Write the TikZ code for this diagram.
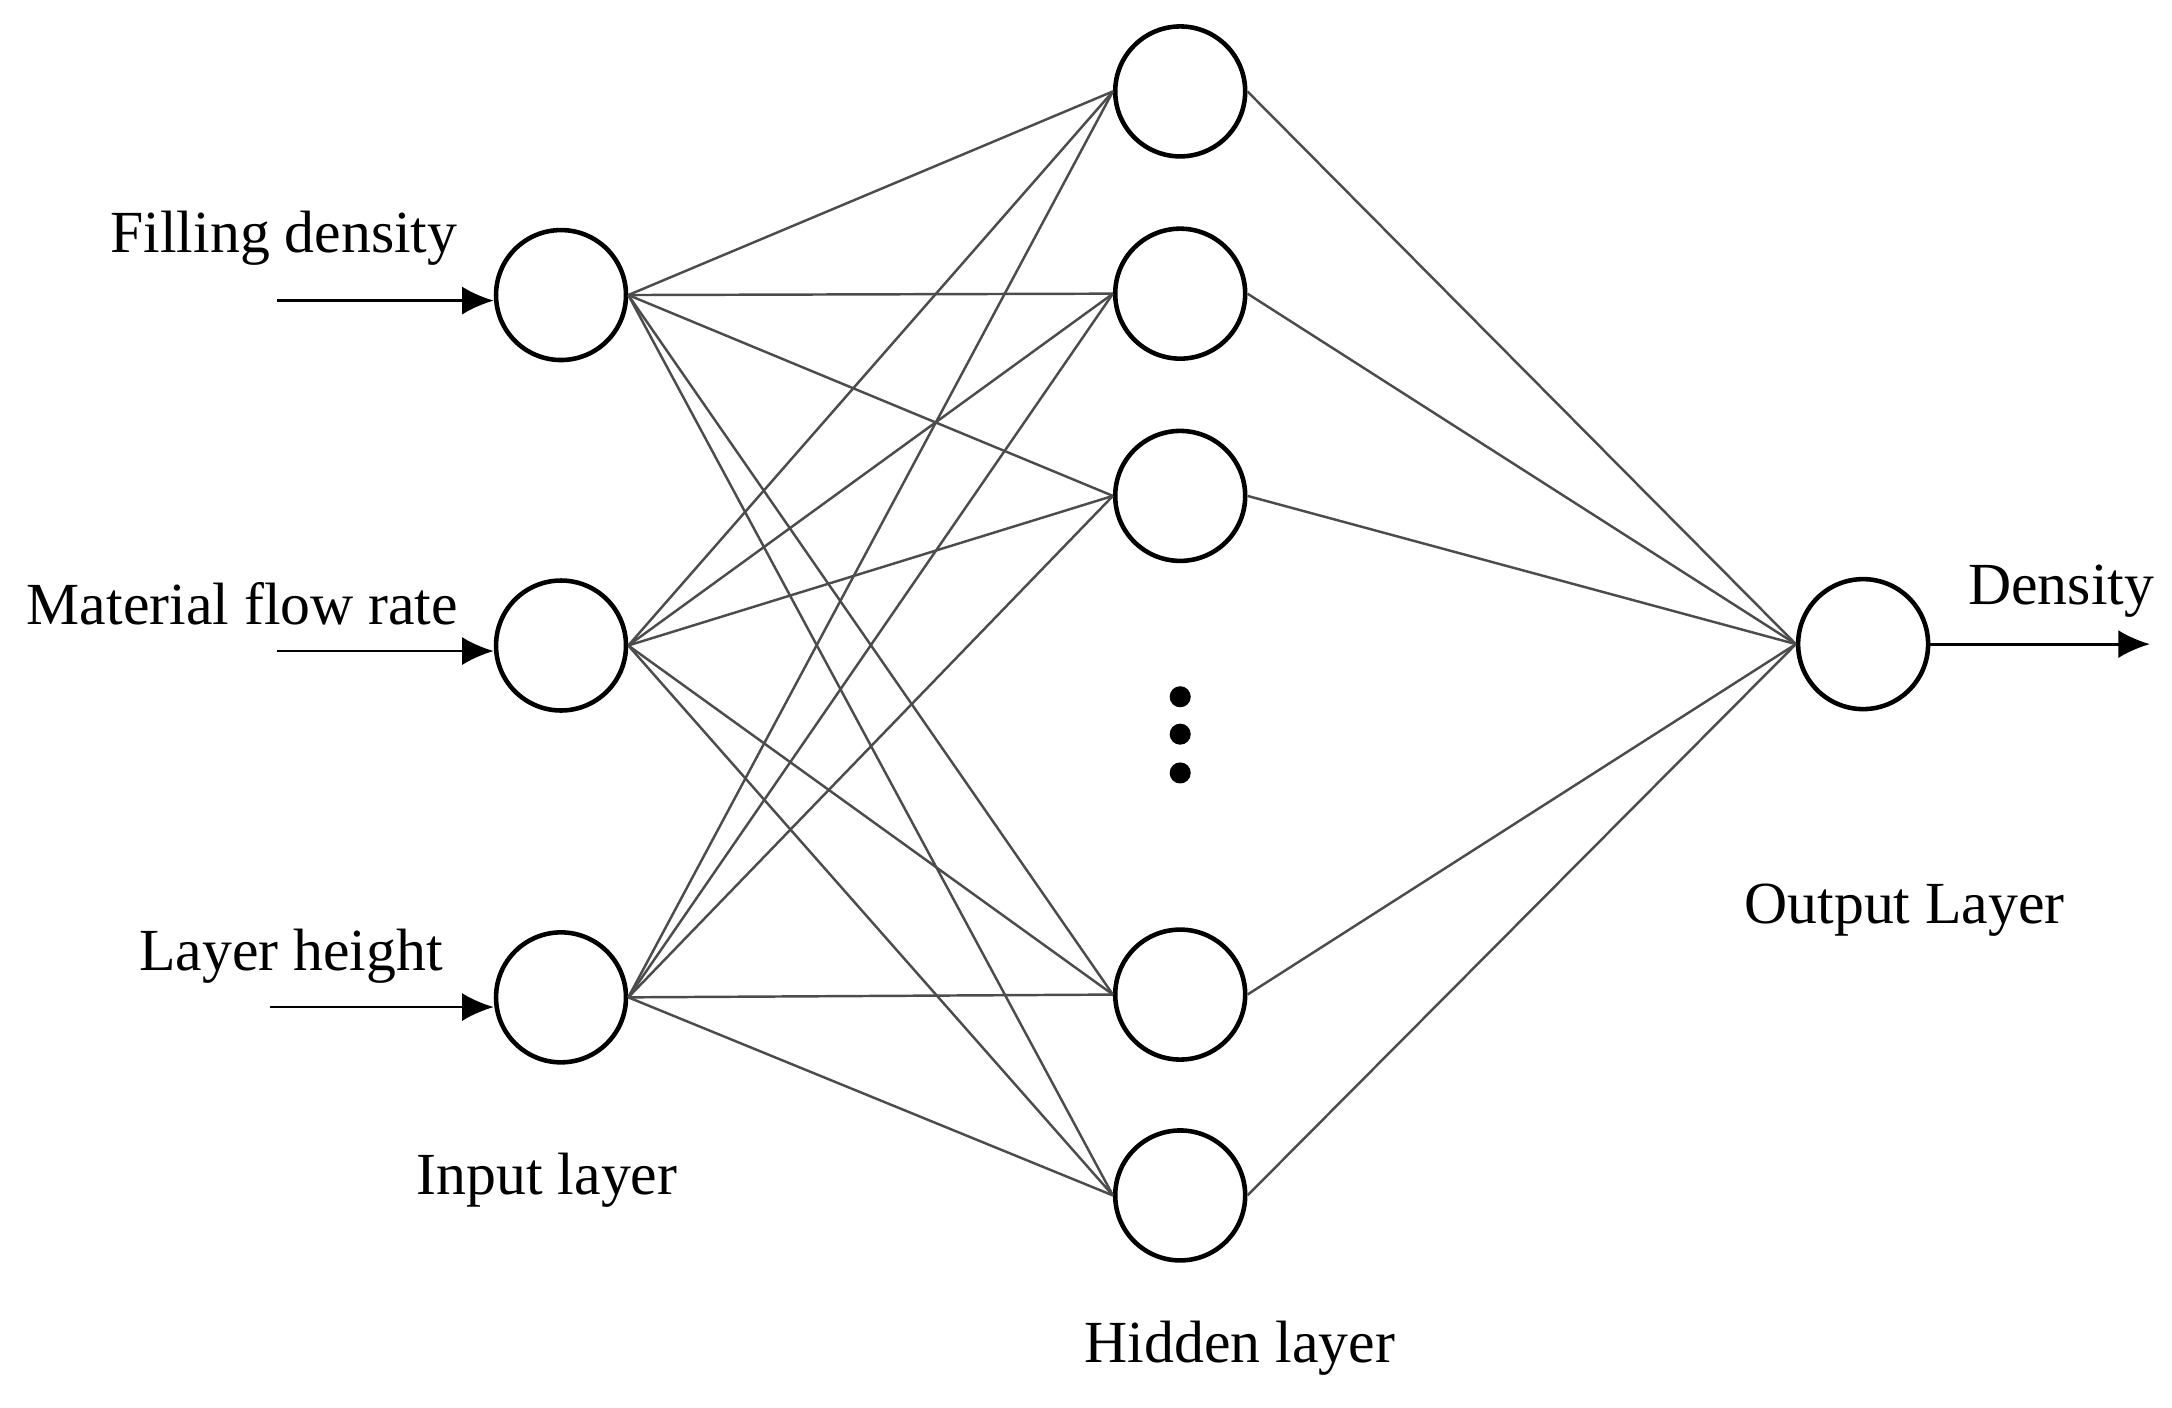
\documentclass[tikz,border=0pt]{standalone}
\usepackage{fontspec}
\setmainfont{Liberation Serif}
\usetikzlibrary{arrows.meta}
\begin{document}
\begin{tikzpicture}[x=0.01385cm, y=-0.01385cm,
        n/.style={draw, circle, line width=1.3pt, minimum size=1.3cm, inner sep=0pt},
        w/.style={draw=black!70, line width=0.7pt},
        arr/.style={-{Latex[length=9pt,width=8pt]}, line width=0.8pt},
        t/.style={font=\fontsize{17}{20}\selectfont, inner sep=0pt},
        dot/.style={fill=black, circle, inner sep=0pt, minimum size=6pt}]
        \useasboundingbox (0,0) rectangle (1568,1016);
        % input layer
        \node[n] (i1) at (405,213) {};
        \node[n] (i2) at (405,466) {};
        \node[n] (i3) at (405,720) {};
        % hidden layer
        \foreach \k/\y in {1/66,2/212,3/358,4/718,5/863}
            \node[n] (h\k) at (852,\y) {};
        \foreach \y in {503,530,558}
            \node[dot] at (852,\y) {};
        % output layer
        \node[n] (o) at (1345,465) {};

        \foreach \i in {1,2,3}
            \foreach \k in {1,...,5}
                \draw[w] (i\i.east) -- (h\k.west);
        \foreach \k in {1,...,5}
            \draw[w] (h\k.east) -- (o.west);

        \coordinate (a1) at (200,217);
        \coordinate (a2) at (200,470);
        \coordinate (a3) at (195,727);
        \coordinate (b) at (1552,465);
        \draw[arr] (a1) -- (i1.west |- a1);
        \draw[arr] (a2) -- (i2.west |- a2);
        \draw[arr] (a3) -- (i3.west |- a3);
        \draw[arr] (o.east) -- (b);

        \node[t] (l1) at (205,172) {Filling density};
        \node[t] (l2) at (175,436) {Material flow rate};
        \node[t] (l3) at (210,690) {Layer height};
        \node[t] (l4) at (1488,427) {Density};
        \node[t] (il) at (395,852) {Input layer};
        \node[t] (hl) at (895,973) {Hidden layer};
        \node[t] (ol) at (1375,657) {Output Layer};
    \end{tikzpicture}
\end{document}
